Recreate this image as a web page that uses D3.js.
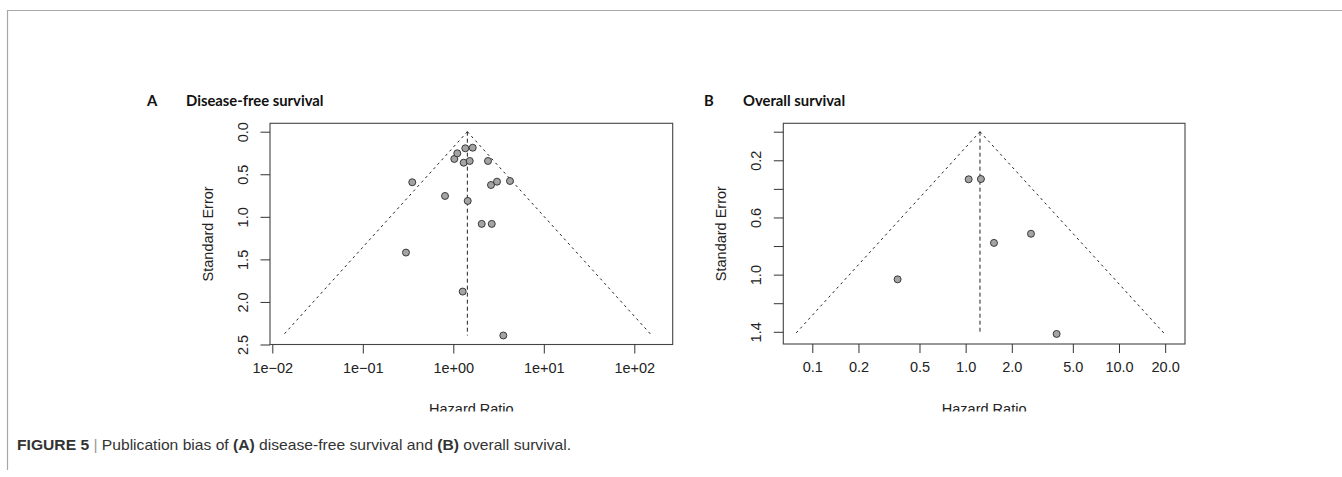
<!DOCTYPE html>
<html>
<head>
<meta charset="utf-8">
<script src="https://cdn.jsdelivr.net/npm/d3@7/dist/d3.min.js"></script>
<style>
body { margin: 0; background: #fff; }
svg { display: block; }
</style>
</head>
<body>
<div id="viz"></div>
<script>
// panel A: disease-free survival (hazard ratio, standard error)
var dfs_hr = [0.352, 0.810, 1.443, 1.026, 1.107, 1.357, 1.638, 1.303, 1.518, 2.417, 2.61, 3.04, 4.23, 2.06, 2.66, 0.300, 1.27, 3.57];
var dfs_se = [0.594, 0.755, 0.813, 0.320, 0.254, 0.195, 0.188, 0.364, 0.344, 0.344, 0.626, 0.587, 0.579, 1.083, 1.083, 1.420, 1.878, 2.394];
var dfs_pooled = 1.43;
var dfs_x_ticks = [0.01, 0.1, 1, 10, 100];
var dfs_x_labels = ['1e\u221202', '1e\u221201', '1e+00', '1e+01', '1e+02'];
var dfs_y_ticks = [0, 0.5, 1, 1.5, 2, 2.5];
var dfs_y_labels = ['0.0', '0.5', '1.0', '1.5', '2.0', '2.5'];

// panel B: overall survival
var os_hr = [1.046, 1.258, 1.530, 2.667, 0.360, 3.92];
var os_se = [0.333, 0.331, 0.778, 0.714, 1.033, 1.415];
var os_pooled = 1.24;
var os_x_ticks = [0.1, 0.2, 0.5, 1, 2, 5, 10, 20];
var os_x_labels = ['0.1', '0.2', '0.5', '1.0', '2.0', '5.0', '10.0', '20.0'];
var os_y_ticks = [0, 0.2, 0.4, 0.6, 0.8, 1.0, 1.2, 1.4];
var os_y_labels = ['', '0.2', '', '0.6', '', '1.0', '', '1.4'];

var w = 1342,
	h = 477,
	axis_font = '"Liberation Sans", Arial, Helvetica, sans-serif';

var svg = d3.select('#viz').append('svg')
	.attr('width', w)
	.attr('height', h)
	.attr('viewBox', '0 0 ' + w + ' ' + h);

// figure frame (top and left rules)
svg.append('line')
	.attr('x1', 8).attr('x2', w).attr('y1', 10.5).attr('y2', 10.5)
	.attr('stroke', '#a8a8a8').attr('stroke-width', 1.2);
svg.append('line')
	.attr('x1', 7.5).attr('x2', 7.5).attr('y1', 10).attr('y2', 470)
	.attr('stroke', '#a8a8a8').attr('stroke-width', 1.2);

// the picture is cut just below the axis titles
svg.append('defs').append('clipPath')
	.attr('id', 'fig-clip')
	.append('rect')
		.attr('x', 0).attr('y', 0).attr('width', w).attr('height', 411.5);

var fig = svg.append('g').attr('clip-path', 'url(#fig-clip)');

function drawFunnel(p) {
	var g = fig.append('g').attr('class', 'panel');

	var x = d3.scaleLog().domain(p.x_domain).range(p.x_range);
	var y = d3.scaleLinear().domain(p.y_domain).range(p.y_range);

	var data = p.hr.map(function(d, i){ return { hr: d, se: p.se[i] }; });
	var se_max = d3.max(p.se);
	var lp = Math.log(p.pooled);

	// panel title
	g.append('text')
		.attr('x', p.title_x)
		.attr('y', 105.5)
		.attr('font-family', 'Lato, "Open Sans", sans-serif')
		.attr('font-weight', 700)
		.attr('font-size', 14.8)
		.attr('fill', '#111')
		.text(p.letter);
	g.append('text')
		.attr('x', p.title_x + 39)
		.attr('y', 105.5)
		.attr('font-family', 'Lato, "Open Sans", sans-serif')
		.attr('font-weight', 700)
		.attr('font-size', 14.8)
		.attr('fill', '#111')
		.text(p.title);

	// funnel sides
	var funnel_l = [
		[p.pooled, 0],
		[Math.exp(lp - 1.96 * se_max), se_max]
	];
	var funnel_r = [
		[p.pooled, 0],
		[Math.exp(lp + 1.96 * se_max), se_max]
	];
	var line = d3.line()
		.x(function(d){ return x(d[0]); })
		.y(function(d){ return y(d[1]); });
	[funnel_l, funnel_r].forEach(function(f){
		g.append('path')
			.attr('d', line(f))
			.attr('fill', 'none')
			.attr('stroke', '#222')
			.attr('stroke-width', 1)
			.attr('stroke-dasharray', '2.5,3.5');
	});

	// pooled estimate
	g.append('line')
		.attr('x1', x(p.pooled)).attr('x2', x(p.pooled))
		.attr('y1', y(0)).attr('y2', y(se_max))
		.attr('stroke', '#222')
		.attr('stroke-width', 1)
		.attr('stroke-dasharray', '4,3');

	// studies
	g.selectAll('.study')
		.data(data)
		.enter().append('circle')
			.attr('class', 'study')
			.attr('cx', function(d){ return x(d.hr); })
			.attr('cy', function(d){ return y(d.se); })
			.attr('r', 3.5)
			.attr('fill', '#a4a4a4')
			.attr('stroke', '#2a2a2a')
			.attr('stroke-width', 0.9);

	// box
	g.append('rect')
		.attr('x', p.box[0])
		.attr('y', p.box[1])
		.attr('width', p.box[2] - p.box[0])
		.attr('height', p.box[3] - p.box[1])
		.attr('fill', 'none')
		.attr('stroke', '#444')
		.attr('stroke-width', 1.1);

	// x axis
	var xa = g.append('g')
		.attr('transform', 'translate(0,' + p.box[3] + ')')
		.call(d3.axisBottom(x)
			.tickValues(p.x_ticks)
			.tickFormat(function(d, i){ return p.x_labels[i]; })
			.tickSize(9)
			.tickPadding(9));
	xa.select('.domain').remove();
	xa.selectAll('line').attr('stroke', '#333');
	xa.selectAll('text')
		.attr('font-family', axis_font)
		.attr('font-size', 14.5)
		.attr('fill', '#222');

	g.append('text')
		.attr('x', (p.box[0] + p.box[2]) / 2)
		.attr('y', 414)
		.attr('text-anchor', 'middle')
		.attr('font-family', axis_font)
		.attr('font-size', 14.5)
		.attr('fill', '#222')
		.text('Hazard Ratio');

	// y axis
	var ya = g.append('g')
		.attr('transform', 'translate(' + p.box[0] + ',0)')
		.call(d3.axisLeft(y)
			.tickValues(p.y_ticks)
			.tickFormat(function(d, i){ return p.y_labels[i]; })
			.tickSize(9.5));
	ya.select('.domain').remove();
	ya.selectAll('line').attr('stroke', '#333');
	ya.selectAll('text')
		.attr('x', null)
		.attr('dy', null)
		.attr('transform', 'translate(-27,0) rotate(-90)')
		.attr('text-anchor', 'middle')
		.attr('dominant-baseline', 'central')
		.attr('font-family', axis_font)
		.attr('font-size', 14.5)
		.attr('fill', '#222');

	g.append('text')
		.attr('transform', 'translate(' + (p.box[0] - 62) + ',' + ((p.box[1] + p.box[3]) / 2) + ') rotate(-90)')
		.attr('text-anchor', 'middle')
		.attr('dominant-baseline', 'central')
		.attr('font-family', axis_font)
		.attr('font-size', 14.5)
		.attr('fill', '#222')
		.text('Standard Error');
}

drawFunnel({
	letter: 'A',
	title: 'Disease-free survival',
	title_x: 147,
	hr: dfs_hr,
	se: dfs_se,
	pooled: dfs_pooled,
	x_domain: [0.01, 100],
	x_range: [272.3, 634.3],
	y_domain: [0, 2.5],
	y_range: [131.7, 344.5],
	box: [270, 123.3, 672.7, 344.5],
	x_ticks: dfs_x_ticks,
	x_labels: dfs_x_labels,
	y_ticks: dfs_y_ticks,
	y_labels: dfs_y_labels
});

drawFunnel({
	letter: 'B',
	title: 'Overall survival',
	title_x: 704,
	hr: os_hr,
	se: os_se,
	pooled: os_pooled,
	x_domain: [0.1, 10],
	x_range: [812.3, 1119],
	y_domain: [0, 1.4],
	y_range: [131.7, 331.8],
	box: [783.3, 123.3, 1185, 344],
	x_ticks: os_x_ticks,
	x_labels: os_x_labels,
	y_ticks: os_y_ticks,
	y_labels: os_y_labels
});

// caption
var cap = svg.append('text')
	.attr('x', 17)
	.attr('y', 450)
	.attr('font-family', axis_font)
	.attr('font-size', 14.5)
	.attr('fill', '#333')
	.attr('textLength', 554)
	.attr('lengthAdjust', 'spacingAndGlyphs');
cap.append('tspan').attr('font-weight', 700).text('FIGURE 5');
cap.append('tspan').attr('fill', '#999').text(' | ');
cap.append('tspan').text('Publication bias of ');
cap.append('tspan').attr('font-weight', 700).text('(A)');
cap.append('tspan').text(' disease-free survival and ');
cap.append('tspan').attr('font-weight', 700).text('(B)');
cap.append('tspan').text(' overall survival.');
</script>
</body>
</html>
